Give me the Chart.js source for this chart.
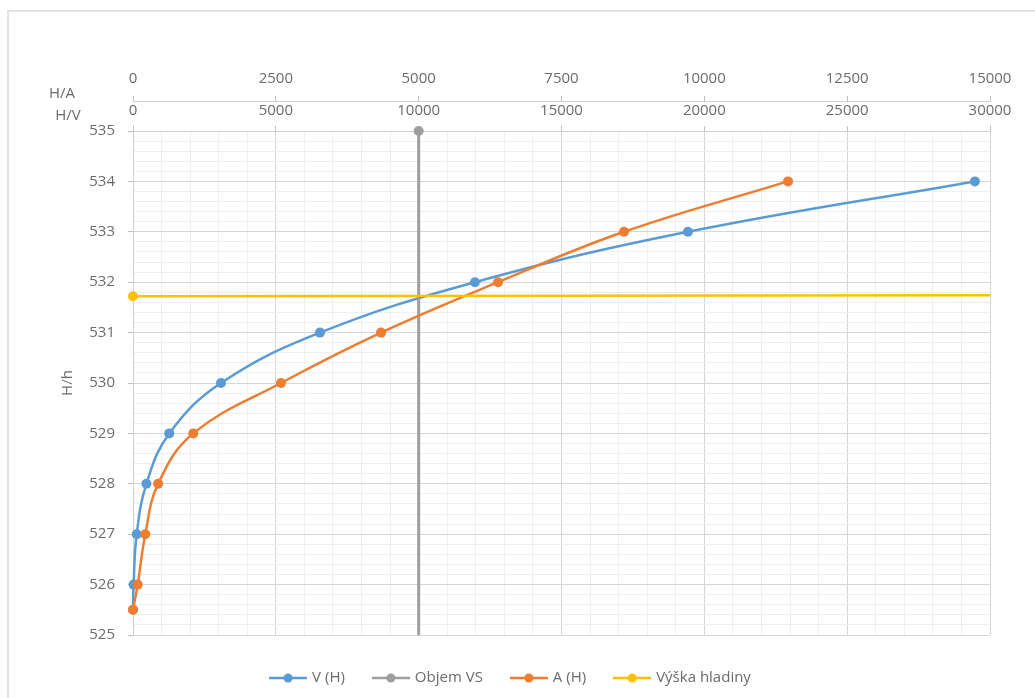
<!DOCTYPE html>
<html>
<head>
<meta charset="utf-8">
<script src="https://cdn.jsdelivr.net/npm/chart.js@4.4.0/dist/chart.umd.min.js"></script>
<style>
  body { margin: 0; background: #fff; }
  #wrap { position: relative; width: 1035px; height: 698px; overflow: hidden; }
  #frame { position: absolute; left: 7px; top: 10px; width: 1100px; height: 800px; border: 2px solid #e3e3e3; }
  canvas { position: absolute; left: 0; top: 0; }
</style>
</head>
<body>
<div id="wrap">
  <div id="frame"></div>
  <canvas id="chart" width="1035" height="698"></canvas>
</div>
<script>
// heights H (m) and the volume / area
const heightsV = [525.5, 526, 527, 528, 529, 530, 531, 532, 533, 534];
const volumes = [0, 20, 130, 470, 1270, 3080, 6545, 11970, 19425, 29470];
const heightsA = [525.5, 526, 527, 528, 529, 530, 531, 532, 533, 534];
const areas = [0, 82, 215, 440, 1055, 2590, 4341, 6389, 8594, 11465];
const objemVS = [10000, 10000];
const objemH = [525, 535];
const hladinaV = [0, 30000];
const hladinaH = [531.72, 531.74];

const yTicks = [];
for (let i = 0; i <= 50; i++) yTicks.push(525 + i / 5);
const vTicks = [];
for (let i = 0; i <= 30; i++) vTicks.push(i * 1000);
const aTicks = [0, 2500, 5000, 7500, 10000, 12500, 15000];

const TEXT = '#6b6b6b';
const MAJOR = '#d6d6d6';
const MINOR = '#efefef';
const FONT = { family: 'Open Sans', size: 15 };

function pts(xs, ys) {
    return xs.map((x, i) => ({ x: x, y: ys[i] }));
}

function isWhole(v, step) {
    const r = v / step;
    return Math.abs(r - Math.round(r)) < 1e-6;
}

function legendIcon(color) {
    const c = document.createElement('canvas');
    c.width = 38; c.height = 12;
    const g = c.getContext('2d');
    g.strokeStyle = color; g.lineWidth = 2.5;
    g.beginPath(); g.moveTo(0, 6); g.lineTo(38, 6); g.stroke();
    g.fillStyle = color;
    g.beginPath(); g.arc(19, 6, 4.5, 0, Math.PI * 2); g.fill();
    return c;
}

// axis titles and legend drawn by hand, Excel style
const extras = {
    id: 'extras',
    afterDraw(chart) {
        const ctx = chart.ctx;
        ctx.save();
        ctx.fillStyle = TEXT;
        ctx.font = '15px "Open Sans"';
        ctx.textAlign = 'center';
        ctx.textBaseline = 'middle';
        ctx.fillText('H/A', 62, 94);
        ctx.fillText('H/V', 68, 116);
        ctx.save();
        ctx.translate(68, 383);
        ctx.rotate(-Math.PI / 2);
        ctx.fillText('H/h', 0, 0);
        ctx.restore();

        const items = chart.data.datasets.map(d => ({ text: d.label, color: d.borderColor }));
        const iconW = 38, gap = 5, between = 27;
        let total = 0;
        items.forEach((it, i) => {
            it.w = iconW + gap + ctx.measureText(it.text).width;
            total += it.w + (i ? between : 0);
        });
        let x = 510 - total / 2;
        const y = 678;
        ctx.textAlign = 'left';
        items.forEach(it => {
            ctx.drawImage(legendIcon(it.color), x, y - 6);
            ctx.fillText(it.text, x + iconW + gap, y);
            x += it.w + between;
        });
        ctx.restore();
    }
};

const lineBase = {
    showLine: true,
    tension: 0.4,
    borderWidth: 2.5,
    pointRadius: 5,
    pointHoverRadius: 5,
    pointBorderWidth: 0,
    clip: false
};

new Chart(document.getElementById('chart'), {
    type: 'scatter',
    data: {
        datasets: [
            Object.assign({}, lineBase, {
                label: 'V (H)', data: pts(volumes, heightsV), xAxisID: 'x',
                borderColor: '#5b9bd5', backgroundColor: '#5b9bd5', order: 4
            }),
            Object.assign({}, lineBase, {
                label: 'Objem VS', data: pts(objemVS, objemH), xAxisID: 'x', tension: 0,
                borderWidth: 3, pointRadius: [0, 5],
                borderColor: '#9e9e9e', backgroundColor: '#9e9e9e', order: 3
            }),
            Object.assign({}, lineBase, {
                label: 'A (H)', data: pts(areas, heightsA), xAxisID: 'x2',
                borderColor: '#ed7d31', backgroundColor: '#ed7d31', order: 2
            }),
            Object.assign({}, lineBase, {
                label: 'Výška hladiny', data: pts(hladinaV, hladinaH), xAxisID: 'x', tension: 0,
                pointRadius: [5, 0],
                borderColor: '#ffc000', backgroundColor: '#ffc000', order: 1
            })
        ]
    },
    options: {
        responsive: false,
        animation: false,
        layout: { padding: { top: 65, right: 45, bottom: 63, left: 0 } },
        plugins: {
            legend: { display: false },
            tooltip: { enabled: false }
        },
        scales: {
            x: {
                type: 'linear', position: 'top', weight: 1,
                min: 0, max: 30000,
                afterBuildTicks: s => { s.ticks = vTicks.map(v => ({ value: v })); },
                afterFit: s => { s.height = 30; },
                ticks: {
                    autoSkip: false, maxRotation: 0, padding: 6, color: TEXT, font: FONT,
                    callback: v => isWhole(v, 5000) ? String(v) : ''
                },
                grid: {
                    tickLength: 5,
                    color: c => c.tick && isWhole(c.tick.value, 5000) ? MAJOR : MINOR,
                    tickColor: c => c.tick && isWhole(c.tick.value, 5000) ? '#bfbfbf' : 'rgba(0,0,0,0)'
                },
                border: { color: '#cfcfcf' }
            },
            x2: {
                type: 'linear', position: 'top', weight: 2,
                min: 0, max: 15000,
                afterBuildTicks: s => { s.ticks = aTicks.map(v => ({ value: v })); },
                afterFit: s => { s.height = 36; },
                ticks: {
                    autoSkip: false, maxRotation: 0, padding: 8, color: TEXT, font: FONT,
                    callback: v => String(v)
                },
                grid: { drawOnChartArea: false, tickLength: 5, tickColor: '#bfbfbf' },
                border: { color: '#cfcfcf' }
            },
            y: {
                type: 'linear', position: 'left',
                min: 525, max: 535,
                afterBuildTicks: s => { s.ticks = yTicks.map(v => ({ value: v })); },
                afterFit: s => { s.width = 133; },
                ticks: {
                    autoSkip: false, padding: 13, color: TEXT, font: FONT,
                    callback: v => isWhole(v, 1) ? String(Math.round(v)) : ''
                },
                grid: {
                    tickLength: 5,
                    color: c => c.tick && isWhole(c.tick.value, 1) ? MAJOR : MINOR,
                    tickColor: c => c.tick && isWhole(c.tick.value, 1) ? '#bfbfbf' : 'rgba(0,0,0,0)'
                },
                border: { color: '#cfcfcf' }
            }
        }
    },
    plugins: [extras]
});
</script>
</body>
</html>
